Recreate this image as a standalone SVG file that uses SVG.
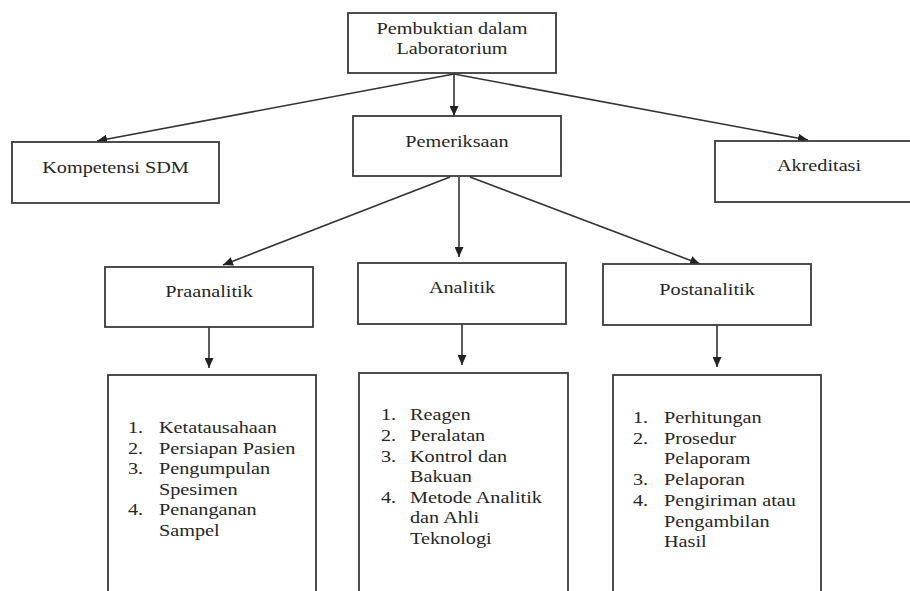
<svg xmlns="http://www.w3.org/2000/svg" width="910" height="591" viewBox="0 0 910 591">
<defs>
<style>
.box{fill:#fff;stroke:#3a3a3a;stroke-width:1.8}
.t{font-family:"Liberation Serif","Times New Roman",serif;font-size:17px;fill:#262626}
.c{text-anchor:middle}
.ln{stroke:#333;stroke-width:1.6;fill:none;marker-end:url(#ah)}
</style>
<marker id="ah" markerUnits="userSpaceOnUse" markerWidth="10" markerHeight="9" refX="10" refY="4.5" orient="auto" viewBox="0 0 10 9">
<path d="M0,0 L10,4.5 L0,9 z" fill="#222"/>
</marker>
</defs>
<rect width="910" height="591" fill="#fff"/>
<g id="connectors">
<line class="ln" x1="454" y1="74" x2="97" y2="141"/>
<line class="ln" x1="454" y1="74" x2="454" y2="116"/>
<line class="ln" x1="454" y1="74" x2="808" y2="140"/>
<line class="ln" x1="450" y1="177" x2="223" y2="265"/>
<line class="ln" x1="459" y1="177" x2="459" y2="257"/>
<line class="ln" x1="470" y1="177" x2="700" y2="264"/>
<line class="ln" x1="209" y1="327" x2="209" y2="368"/>
<line class="ln" x1="462" y1="324" x2="462" y2="365"/>
<line class="ln" x1="717" y1="325" x2="717" y2="367"/>
</g>
<g id="node-root">
<rect class="box" x="348" y="13" width="208" height="60"/>
<text class="t c" transform="translate(452,34) scale(1.19,1)">Pembuktian dalam</text>
<text class="t c" transform="translate(452,54) scale(1.19,1)">Laboratorium</text>
</g>
<g id="node-kompetensi">
<rect class="box" x="12" y="142" width="207" height="61"/>
<text class="t c" transform="translate(115.5,173) scale(1.19,1)">Kompetensi SDM</text>
</g>
<g id="node-pemeriksaan">
<rect class="box" x="353" y="116" width="208" height="60"/>
<text class="t c" transform="translate(457,147) scale(1.19,1)">Pemeriksaan</text>
</g>
<g id="node-akreditasi">
<rect class="box" x="715" y="141" width="230" height="61"/>
<text class="t c" transform="translate(819,171) scale(1.19,1)">Akreditasi</text>
</g>
<g id="node-praanalitik">
<rect class="box" x="105" y="267" width="208" height="60"/>
<text class="t c" transform="translate(209,297) scale(1.19,1)">Praanalitik</text>
</g>
<g id="node-analitik">
<rect class="box" x="358" y="263" width="208" height="61"/>
<text class="t c" transform="translate(462,293) scale(1.19,1)">Analitik</text>
</g>
<g id="node-postanalitik">
<rect class="box" x="603" y="264" width="208" height="61"/>
<text class="t c" transform="translate(707,295) scale(1.19,1)">Postanalitik</text>
</g>
<g id="node-list-praanalitik">
<rect class="box" x="108" y="375" width="208" height="240"/>
<text class="t" transform="translate(128,433) scale(1.19,1)">1.</text>
<text class="t" transform="translate(159,433) scale(1.19,1)">Ketatausahaan</text>
<text class="t" transform="translate(128,453.5) scale(1.19,1)">2.</text>
<text class="t" transform="translate(159,453.5) scale(1.19,1)">Persiapan Pasien</text>
<text class="t" transform="translate(128,474) scale(1.19,1)">3.</text>
<text class="t" transform="translate(159,474) scale(1.19,1)">Pengumpulan</text>
<text class="t" transform="translate(159,494.5) scale(1.19,1)">Spesimen</text>
<text class="t" transform="translate(128,515) scale(1.19,1)">4.</text>
<text class="t" transform="translate(159,515) scale(1.19,1)">Penanganan</text>
<text class="t" transform="translate(159,535.5) scale(1.19,1)">Sampel</text>
</g>
<g id="node-list-analitik">
<rect class="box" x="359" y="373" width="209" height="240"/>
<text class="t" transform="translate(381,420) scale(1.19,1)">1.</text>
<text class="t" transform="translate(410,420) scale(1.19,1)">Reagen</text>
<text class="t" transform="translate(381,441) scale(1.19,1)">2.</text>
<text class="t" transform="translate(410,441) scale(1.19,1)">Peralatan</text>
<text class="t" transform="translate(381,462) scale(1.19,1)">3.</text>
<text class="t" transform="translate(410,462) scale(1.19,1)">Kontrol dan</text>
<text class="t" transform="translate(410,482) scale(1.19,1)">Bakuan</text>
<text class="t" transform="translate(381,503) scale(1.19,1)">4.</text>
<text class="t" transform="translate(410,503) scale(1.19,1)">Metode Analitik</text>
<text class="t" transform="translate(410,523) scale(1.19,1)">dan Ahli</text>
<text class="t" transform="translate(410,544) scale(1.19,1)">Teknologi</text>
</g>
<g id="node-list-postanalitik">
<rect class="box" x="613" y="375" width="208" height="240"/>
<text class="t" transform="translate(633,423) scale(1.19,1)">1.</text>
<text class="t" transform="translate(664,423) scale(1.19,1)">Perhitungan</text>
<text class="t" transform="translate(633,443.5) scale(1.19,1)">2.</text>
<text class="t" transform="translate(664,443.5) scale(1.19,1)">Prosedur</text>
<text class="t" transform="translate(664,464) scale(1.19,1)">Pelaporam</text>
<text class="t" transform="translate(633,485) scale(1.19,1)">3.</text>
<text class="t" transform="translate(664,485) scale(1.19,1)">Pelaporan</text>
<text class="t" transform="translate(633,506) scale(1.19,1)">4.</text>
<text class="t" transform="translate(664,506) scale(1.19,1)">Pengiriman atau</text>
<text class="t" transform="translate(664,526.5) scale(1.19,1)">Pengambilan</text>
<text class="t" transform="translate(664,547) scale(1.19,1)">Hasil</text>
</g>
</svg>
